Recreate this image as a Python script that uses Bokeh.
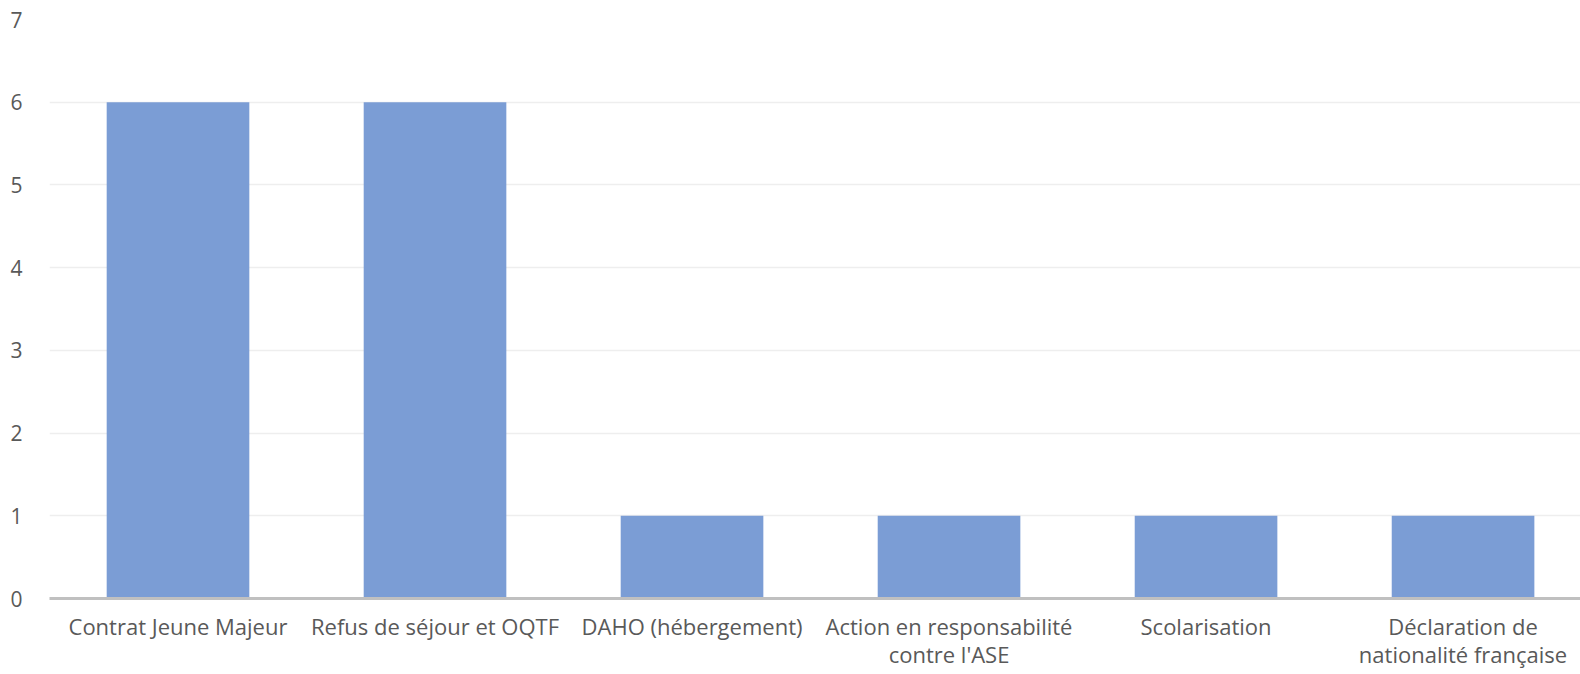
from bokeh.plotting import figure
from bokeh.models import FixedTicker, ColumnDataSource
from bokeh.embed import file_html
from bokeh.resources import INLINE

categories = ["Contrat Jeune Majeur", "Refus de séjour et OQTF", "DAHO (hébergement)",
              "Action en responsabilité\ncontre l'ASE", "Scolarisation",
              "Déclaration de\nnationalité française"]
counts = [6, 6, 1, 1, 1, 1]
y_ticks = [0, 1, 2, 3, 4, 5, 6, 7]

positions = [i + 0.5 for i in range(len(categories))]
src = ColumnDataSource(dict(x=positions, top=counts, cat=categories))

p = figure(x_range=(0, 5.957), y_range=(0, 7),
           width=1580, height=674, output_backend="svg", toolbar_location=None,
           min_border_left=49, min_border_right=0, min_border_top=19, min_border_bottom=76)
p.vbar(x="x", top="top", width=0.555, source=src, color="#7b9dd5", line_color=None)

p.outline_line_color = None
p.xgrid.grid_line_color = None
p.ygrid.grid_line_color = "#eeeeee"
p.ygrid.grid_line_width = 1.5
p.yaxis.ticker = FixedTicker(ticks=y_ticks)
p.yaxis.axis_line_color = None
p.yaxis.major_tick_line_color = None
p.yaxis.minor_tick_line_color = None
p.yaxis.major_tick_out = 0
p.yaxis.major_tick_in = 0
p.yaxis.major_label_standoff = 27
p.yaxis.major_label_text_font = "Open Sans"
p.yaxis.major_label_text_font_size = "21px"
p.yaxis.major_label_text_color = "#595959"

p.xaxis.ticker = FixedTicker(ticks=positions)
p.xaxis.major_label_overrides = {pos: cat for pos, cat in zip(positions, categories)}
p.xaxis.axis_line_color = "#c0c0c0"
p.xaxis.axis_line_width = 3
p.xaxis.major_tick_line_color = None
p.xaxis.minor_tick_line_color = None
p.xaxis.major_tick_out = 0
p.xaxis.major_tick_in = 0
p.xaxis.major_label_standoff = 12
p.xaxis.major_label_text_font = "Open Sans"
p.xaxis.major_label_text_font_size = "22px"
p.xaxis.major_label_text_color = "#595959"
p.xaxis.major_label_text_line_height = 0.94

open("out.html", "w").write(file_html(p, INLINE))
